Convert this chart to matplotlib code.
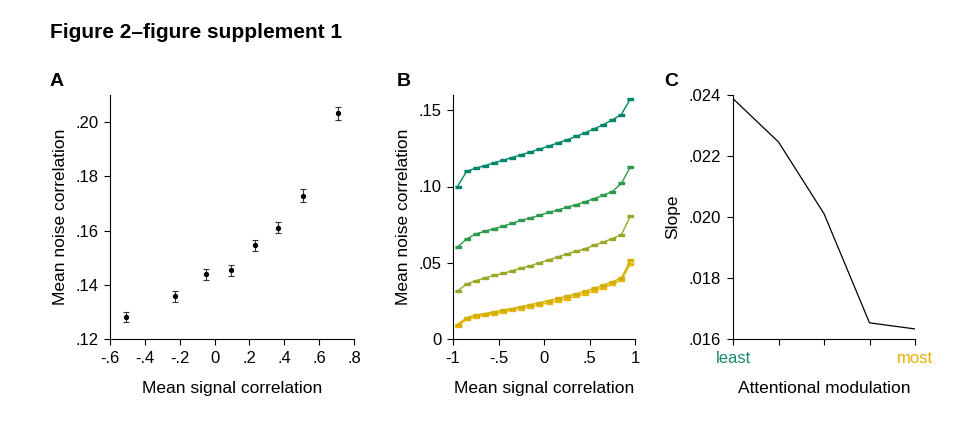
import numpy as np
import matplotlib.pyplot as plt
from matplotlib.ticker import FuncFormatter

plt.rcParams['font.family'] = ['Liberation Sans', 'DejaVu Sans']

# Panel A: binned signal vs noise correlation
a_x = [-0.508, -0.225, -0.049, 0.096, 0.232, 0.362, 0.507, 0.710]
a_y = [0.1281, 0.1358, 0.1438, 0.1454, 0.1545, 0.1611, 0.1729, 0.2032]
a_err = [0.0018, 0.0020, 0.0021, 0.0020, 0.0021, 0.0021, 0.0023, 0.0025]

# Panel B: five attention-modulation groups
b_x = [-0.95, -0.85, -0.75, -0.65, -0.55, -0.45, -0.35, -0.25, -0.15, -0.05,
       0.05, 0.15, 0.25, 0.35, 0.45, 0.55, 0.65, 0.75, 0.85, 0.95]
b_g1 = [0.100, 0.110, 0.112, 0.1137, 0.1155, 0.1172, 0.1190, 0.1208, 0.1226, 0.1245,
        0.1265, 0.1285, 0.1305, 0.1328, 0.1352, 0.1378, 0.1405, 0.1437, 0.1472, 0.1575]
b_g2 = [0.0603, 0.0656, 0.0689, 0.0706, 0.0724, 0.0740, 0.0759, 0.0778, 0.0794, 0.0811,
        0.0830, 0.0846, 0.0864, 0.0880, 0.0900, 0.0920, 0.0943, 0.0967, 0.1020, 0.1130]
b_g3 = [0.0316, 0.0360, 0.0382, 0.0400, 0.0417, 0.0430, 0.0447, 0.0465, 0.0480, 0.0500,
        0.0518, 0.0538, 0.0557, 0.0575, 0.0592, 0.0614, 0.0636, 0.0658, 0.0684, 0.0807]
b_g4 = [0.0095, 0.0140, 0.0157, 0.0167, 0.0178, 0.0190, 0.0200, 0.0213, 0.0225, 0.0238,
        0.0252, 0.0266, 0.0281, 0.0296, 0.0312, 0.0332, 0.0352, 0.0375, 0.0400, 0.0515]
b_g5 = [0.0085, 0.0128, 0.0145, 0.0155, 0.0167, 0.0178, 0.0190, 0.0200, 0.0213, 0.0225,
        0.0238, 0.0251, 0.0265, 0.0280, 0.0296, 0.0315, 0.0336, 0.0360, 0.0386, 0.0492]
b_colors = ['#00876a', '#2e9a4e', '#9aa82a', '#d2b000', '#eab300']

# Panel C: slope per group
c_x = [0, 1, 2, 3, 4]
c_y = [0.02388, 0.02246, 0.02011, 0.01653, 0.01633]
c_labels = ['least', '', '', '', 'most']

W, H = 972, 422
fig = plt.figure(figsize=(W / 100, H / 100), dpi=100)

def add_ax(l, r, t, b):
    return fig.add_axes([l / W, 1 - b / H, (r - l) / W, (b - t) / H])

tfs = 12
fs = 12.5

def style(ax):
    for s in ['top', 'right']:
        ax.spines[s].set_visible(False)
    ax.tick_params(direction='out', length=4.5, width=0.8, labelsize=tfs, pad=4)

def dotfmt(nd):
    def f(v, pos):
        s = f'{v:.{nd}f}'
        if s.startswith('0.'):
            s = s[1:]
        elif s.startswith('-0.'):
            s = '-' + s[2:]
        if float(s) == 0:
            s = '0'
        return s
    return FuncFormatter(f)

# A
axA = add_ax(110, 354, 95, 339)
style(axA)
axA.errorbar(a_x, a_y, yerr=a_err, fmt='o', color='black', ms=2.8, capsize=2.5,
             elinewidth=0.8, capthick=0.8, ecolor='#333333')
axA.set_xlim(-0.6, 0.8)
axA.set_ylim(0.12, 0.21)
axA.set_xticks([-0.6, -0.4, -0.2, 0, 0.2, 0.4, 0.6, 0.8])
axA.set_yticks([0.12, 0.14, 0.16, 0.18, 0.20])
axA.xaxis.set_major_formatter(dotfmt(1))
axA.yaxis.set_major_formatter(dotfmt(2))
axA.set_xlabel('Mean signal correlation', fontsize=fs, labelpad=11)
axA.set_ylabel('Mean noise correlation', fontsize=fs, labelpad=5)

# B
axB = add_ax(453, 635, 95, 339)
style(axB)
rect = [(-1, -0.4), (1, -0.4), (1, 0.4), (-1, 0.4)]
for ys, c in zip([b_g5, b_g4, b_g3, b_g2, b_g1], b_colors[::-1]):
    axB.plot(b_x, ys, color=c, lw=1.0, marker=rect, ms=4.5, mec=c, mfc=c)
axB.set_xlim(-1, 1)
axB.set_ylim(0, 0.16)
axB.set_xticks([-1, -0.5, 0, 0.5, 1])
axB.set_yticks([0, 0.05, 0.10, 0.15])
axB.xaxis.set_major_formatter(FuncFormatter(
    lambda v, p: {-1.0: '-1', -0.5: '-.5', 0.0: '0', 0.5: '.5', 1.0: '1'}[round(v, 1)]))
axB.yaxis.set_major_formatter(dotfmt(2))
axB.set_xlabel('Mean signal correlation', fontsize=fs, labelpad=11)
axB.set_ylabel('Mean noise correlation', fontsize=fs, labelpad=5)

# C
axC = add_ax(733, 915, 95, 339)
style(axC)
axC.plot(c_x, c_y, color='black', lw=0.9)
axC.set_xlim(0, 4)
axC.set_ylim(0.016, 0.024)
axC.set_xticks(c_x)
axC.set_xticklabels(c_labels)
axC.get_xticklabels()[0].set_color('#1a8a6a')
axC.get_xticklabels()[4].set_color('#e8b000')
axC.set_yticks([0.016, 0.018, 0.020, 0.022, 0.024])
axC.yaxis.set_major_formatter(dotfmt(3))
axC.set_xlabel('Attentional modulation', fontsize=fs, labelpad=11)
axC.set_ylabel('Slope', fontsize=fs, labelpad=6)

fig.text(50 / W, 1 - 33 / H, 'Figure 2\u2013figure supplement 1', fontsize=15,
         fontweight='bold', va='center', ha='left')
for lab, x in [('A', 50), ('B', 397), ('C', 664)]:
    fig.text(x / W, 1 - 82 / H, lab, fontsize=14, fontweight='bold', va='center', ha='left')

fig.savefig('out.png', dpi=100)
